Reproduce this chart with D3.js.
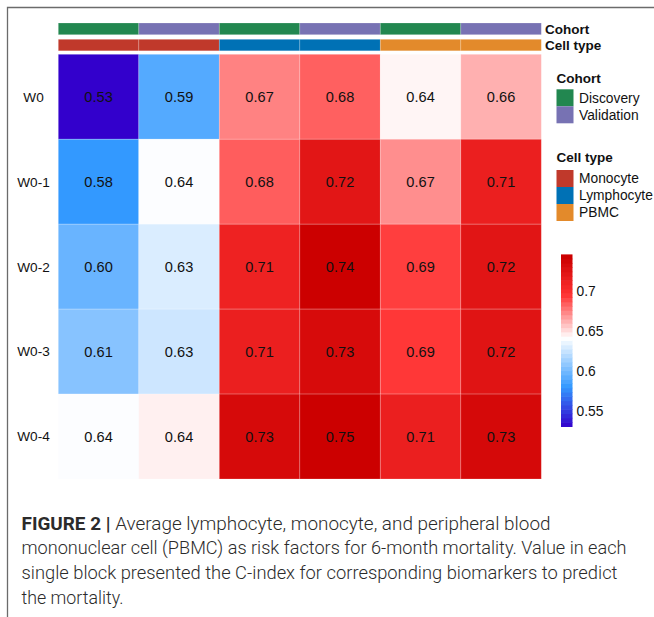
<!DOCTYPE html>
<html>
<head>
<meta charset="utf-8">
<script src="https://cdn.jsdelivr.net/npm/d3@7/dist/d3.min.js"></script>
<style>
  body { margin: 0; background: #fff; }
  svg { display: block; }
</style>
</head>
<body>
<svg id="chart" width="654" height="617"></svg>
<script>
// Heatmap of C-index by time window (rows) and cell type / cohort (columns)
const rowLabels = ["W0", "W0-1", "W0-2", "W0-3", "W0-4"];
const columnIds = ["mono_disc", "mono_val", "lymph_disc", "lymph_val", "pbmc_disc", "pbmc_val"];
const columnCohort = ["Discovery", "Validation", "Discovery", "Validation", "Discovery", "Validation"];
const columnCellType = ["Monocyte", "Monocyte", "Lymphocyte", "Lymphocyte", "PBMC", "PBMC"];

// C-index per row (W0 .. W0-4), columns in the order of columnIds
const cIndexW0  = [0.530, 0.590, 0.674, 0.683, 0.6437, 0.662];
const cIndexW01 = [0.580, 0.640, 0.684, 0.722, 0.671, 0.713];
const cIndexW02 = [0.596, 0.630, 0.711, 0.744, 0.692, 0.723];
const cIndexW03 = [0.6052, 0.626, 0.713, 0.732, 0.694, 0.724];
const cIndexW04 = [0.640, 0.6449, 0.733, 0.748, 0.713, 0.734];
const cIndex = [cIndexW0, cIndexW01, cIndexW02, cIndexW03, cIndexW04];

const cohortLevels = ["Discovery", "Validation"];
const cohortColors = ["#228750", "#7772b3"];
const cellTypeLevels = ["Monocyte", "Lymphocyte", "PBMC"];
const cellTypeColors = ["#c0392b", "#0071b5", "#e38a2b"];

const colorStops = [0.53, 0.58, 0.641, 0.695, 0.742];
const colorStopColors = ["#3300cc", "#3399ff", "#ffffff", "#ff3333", "#cc0000"];
const legendTicks = [0.55, 0.6, 0.65, 0.7];
const legendRange = [0.53, 0.745];

const captionLines = [
  { bold: "FIGURE 2 | ", text: "Average lymphocyte, monocyte, and peripheral blood", width: 529 },
  { bold: "", text: "mononuclear cell (PBMC) as risk factors for 6-month mortality. Value in each", width: 605 },
  { bold: "", text: "single block presented the C-index for corresponding biomarkers to predict", width: 596 },
  { bold: "", text: "the mortality.", width: 102 }
];

const FONT = "'Liberation Sans', Arial, Helvetica, sans-serif";
const svg = d3.select("#chart");

// Frame lines (top and left)
svg.append("path")
  .attr("d", "M7.5,617 L7.5,7.5 L654,7.5")
  .attr("fill", "none")
  .attr("stroke", "#6b6b6b")
  .attr("stroke-width", 1.3);

const x = d3.scaleBand().domain(columnIds).range([58.3, 541.3]);
const y = d3.scaleBand().domain(rowLabels).range([54.3, 479]);

const color = d3.scaleLinear()
  .domain(colorStops)
  .range(colorStopColors)
  .interpolate(d3.interpolateRgb)
  .clamp(true);

const cohortColor = d3.scaleOrdinal().domain(cohortLevels).range(cohortColors);
const cellTypeColor = d3.scaleOrdinal().domain(cellTypeLevels).range(cellTypeColors);

// Column annotations
const annoRows = [
  { label: "Cohort", y0: 23, h: 11.7, fill: (i) => cohortColor(columnCohort[i]) },
  { label: "Cell type", y0: 39.3, h: 11.5, fill: (i) => cellTypeColor(columnCellType[i]) }
];
annoRows.forEach(a => {
  svg.append("g").selectAll("rect")
    .data(columnIds)
    .join("rect")
    .attr("x", d => x(d))
    .attr("y", a.y0)
    .attr("width", x.bandwidth())
    .attr("height", a.h)
    .attr("fill", (d, i) => a.fill(i))
    .attr("stroke", "#ffffff")
    .attr("stroke-opacity", 0.25)
    .attr("stroke-width", 0.8);
  svg.append("text")
    .attr("x", 545)
    .attr("y", a.y0 + a.h / 2)
    .attr("dy", "0.36em")
    .attr("font-family", FONT)
    .attr("font-weight", "bold")
    .attr("font-size", 13.5)
    .attr("fill", "#111")
    .text(a.label);
});

// Heatmap cells
const cells = [];
cIndex.forEach((row, r) => row.forEach((v, c) => cells.push({ row: rowLabels[r], col: columnIds[c], value: v })));

const gCells = svg.append("g");
gCells.selectAll("rect")
  .data(cells)
  .join("rect")
  .attr("x", d => x(d.col))
  .attr("y", d => y(d.row))
  .attr("width", x.bandwidth())
  .attr("height", y.bandwidth())
  .attr("fill", d => color(d.value))
  .attr("stroke", "#ffffff")
  .attr("stroke-opacity", 0.25)
  .attr("stroke-width", 0.8);

const fmt = d3.format(".2f");
gCells.selectAll("text")
  .data(cells)
  .join("text")
  .attr("x", d => x(d.col) + x.bandwidth() / 2)
  .attr("y", d => y(d.row) + y.bandwidth() / 2)
  .attr("dy", "0.36em")
  .attr("text-anchor", "middle")
  .attr("font-family", FONT)
  .attr("font-size", 14.6)
  .attr("fill", "#111")
  .text(d => fmt(d.value));

// Row labels
svg.append("g").selectAll("text")
  .data(rowLabels)
  .join("text")
  .attr("x", 33.5)
  .attr("y", d => y(d) + y.bandwidth() / 2)
  .attr("dy", "0.36em")
  .attr("text-anchor", "middle")
  .attr("font-family", FONT)
  .attr("font-size", 13.6)
  .attr("fill", "#111")
  .text(d => d);

// Discrete legends
function discreteLegend(title, levels, scale, titleY, top) {
  const g = svg.append("g");
  g.append("text")
    .attr("x", 556.5)
    .attr("y", titleY)
    .attr("font-family", FONT)
    .attr("font-weight", "bold")
    .attr("font-size", 13.5)
    .attr("fill", "#111")
    .text(title);
  g.selectAll("rect")
    .data(levels)
    .join("rect")
    .attr("x", 556.5)
    .attr("y", (d, i) => top + i * 17)
    .attr("width", 17)
    .attr("height", 17)
    .attr("fill", d => scale(d));
  g.selectAll("text.lab")
    .data(levels)
    .join("text")
    .attr("class", "lab")
    .attr("x", 579)
    .attr("y", (d, i) => top + i * 17 + 8.5)
    .attr("dy", "0.36em")
    .attr("font-family", FONT)
    .attr("font-size", 13.8)
    .attr("fill", "#111")
    .text(d => d);
}
discreteLegend("Cohort", cohortLevels, cohortColor, 83, 89.3);
discreteLegend("Cell type", cellTypeLevels, cellTypeColor, 162, 170);

// Continuous colour legend
const ly = d3.scaleLinear().domain(legendRange).range([426.7, 254.7]);
const nBands = 40;
const bandVals = d3.range(nBands).map(i => legendRange[0] + (legendRange[1] - legendRange[0]) * (i + 0.5) / nBands);
const bandH = (ly(legendRange[0]) - ly(legendRange[1])) / nBands;
svg.append("g").selectAll("rect")
  .data(bandVals)
  .join("rect")
  .attr("x", 561)
  .attr("y", d => ly(d) - bandH / 2 - 0.3)
  .attr("width", 11.5)
  .attr("height", bandH + 0.6)
  .attr("fill", d => color(d));

svg.append("g").selectAll("text")
  .data(legendTicks)
  .join("text")
  .attr("x", 576.5)
  .attr("y", d => ly(d))
  .attr("dy", "0.36em")
  .attr("font-family", FONT)
  .attr("font-size", 13.8)
  .attr("fill", "#111")
  .text(d => d3.format("")(d));

// Caption
const gCap = svg.append("g");
captionLines.forEach((ln, i) => {
  const t = gCap.append("text")
    .attr("x", 21.5)
    .attr("y", 529.5 + i * 24.7)
    .attr("font-family", "Roboto, 'Liberation Sans', Arial, sans-serif")
    .attr("font-size", 17.5)
    .attr("font-weight", 300)
    .attr("fill", "#2b2b2b")
    .attr("textLength", ln.width)
    .attr("lengthAdjust", "spacingAndGlyphs");
  if (ln.bold) t.append("tspan").attr("font-weight", 700).text(ln.bold);
  t.append("tspan").text(ln.text);
});
</script>
</body>
</html>
